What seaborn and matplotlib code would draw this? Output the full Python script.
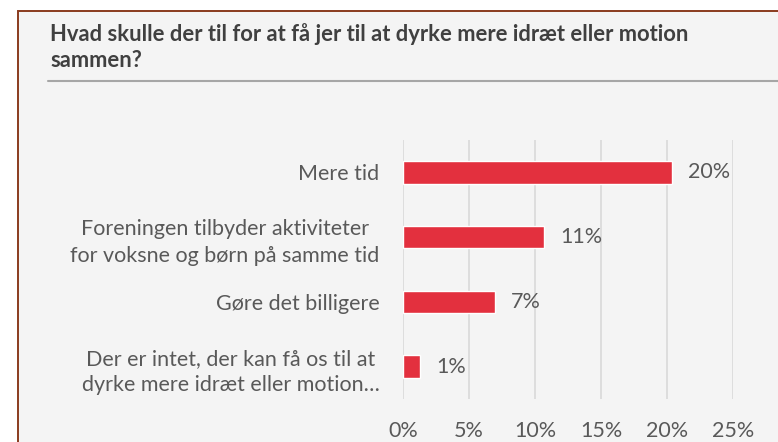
import matplotlib
matplotlib.use("Agg")
import matplotlib.pyplot as plt
from matplotlib.patches import Rectangle
from matplotlib.lines import Line2D
import seaborn as sns
import pandas as pd

title = "Hvad skulle der til for at få jer til at dyrke mere idræt eller motion\nsammen?"
categories = [
    "Mere tid",
    "Foreningen tilbyder aktiviteter\nfor voksne og børn på samme tid",
    "Gøre det billigere",
    "Der er intet, der kan få os til at\ndyrke mere idræt eller motion…",
]
values = [20.4, 10.7, 7.0, 1.3]
value_labels = ["20%", "11%", "7%", "1%"]
xticks = [0, 5, 10, 15, 20, 25]
xtick_labels = ["0%", "5%", "10%", "15%", "20%", "25%"]

sns.set_theme(style="white")
plt.rcParams["font.family"] = ["Lato", "DejaVu Sans"]

W, H = 778, 442
fig = plt.figure(figsize=(W / 100, H / 100), dpi=100)
fig.patch.set_facecolor("white")

# framed panel
fig.patches.append(Rectangle((17.5 / W, -0.1), 1.2, 1 - 10.7 / H + 0.1,
                             transform=fig.transFigure, facecolor="#f4f4f4",
                             edgecolor="#8a3b1e", linewidth=1.4, zorder=-2))
# title underline
fig.lines.append(Line2D([48 / W, 1.0], [1 - 80.7 / H] * 2, transform=fig.transFigure,
                        color="#a6a6a6", linewidth=1.5, zorder=-1))
fig.text(50 / W, 1 - 23 / H, title, ha="left", va="top", fontsize=15.8,
         fontweight="bold", color="#404040", linespacing=1.3)

ax = fig.add_axes([403 / W, 1 - 399 / H, (733 - 403) / W, (399 - 140) / H])
ax.set_facecolor("none")

df = pd.DataFrame({"cat": categories, "val": values})
sns.barplot(data=df, x="val", y="cat", orient="h", color="#e3303e",
            saturation=1, width=0.35, ax=ax, zorder=3)

FS = 15.5
ax.set_xlim(0, 25)
ax.set_ylim(3.5, -0.5)
ax.set_xticks(xticks)
ax.set_xticklabels(xtick_labels)
ax.xaxis.grid(True, color="#d9d9d9", linewidth=1.2, zorder=0)
ax.set_axisbelow(True)
for s in ax.spines.values():
    s.set_visible(False)
ax.set_xlabel("")
ax.set_ylabel("")
ax.tick_params(axis="both", length=0, labelsize=FS, labelcolor="#595959")
ax.tick_params(axis="y", pad=17)
ax.tick_params(axis="x", pad=16)
for lbl in ax.get_yticklabels():
    lbl.set_multialignment("center")
    lbl.set_linespacing(1.4)

ax.bar_label(ax.containers[0], labels=value_labels, padding=11.5,
             fontsize=FS, color="#595959")

fig.savefig("out.png", dpi=100, facecolor=fig.get_facecolor())
